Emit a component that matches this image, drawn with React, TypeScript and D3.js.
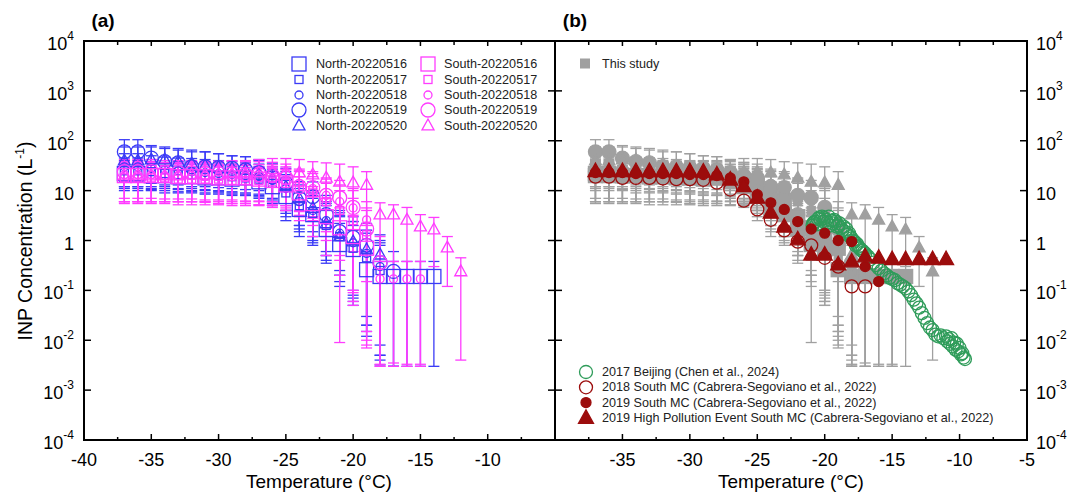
import React from 'react';
import * as d3 from 'd3';

// ---- data ----
const TEMPS = [-37, -36, -35, -34, -33, -32, -31, -30, -29, -28, -27, -26, -25, -24, -23, -22, -21, -20, -19, -18, -17, -16, -15, -14, -13, -12, -11];

const north16Val = [22, 22, 20, 20, 19, 19, 18, 18, 17, 18, 15, 12, 7.6, 4.2, 3.3, 1.66, 0.83, 0.66, 0.26, 0.19, 0.19, 0.19, 0.19, 0.19];
const north16Hi = [40, 40, 38, 36, 35, 34, 33, 32, 31, 32, 28, 24, 16, 9, 7, 4, 2.2, 1.6, 0.6, 0.38, 0.38, 0.38, 0.38, 0.38];
const north16Lo = [10, 10, 10, 9, 9, 9, 8.5, 8.5, 8, 8, 7, 5, 2.5, 1.2, 0.8, 0.35, 0.12, 0.06, 0.012, 0.0032, 0.003, 0.003, 0.003, 0.003];

const north17Val = [25, 25, 24, 22, 21, 21, 20, 20, 19, 18, 17, 14, 9, 5, 3.5, 2, 1.2, 0.7, 0.45, 0.25];
const north17Hi = [45, 45, 42, 40, 38, 38, 36, 36, 34, 32, 30, 27, 18, 11, 8, 5, 3.2, 2, 1.4, 0.8];
const north17Lo = [11, 11, 10.5, 10, 9.5, 9.5, 9, 9, 8.5, 8, 7.5, 5.5, 3, 1.5, 0.9, 0.4, 0.15, 0.05, 0.015, 0.004];

const north18Val = [30, 30, 28, 26, 25, 24, 23, 22, 21, 20, 19, 16, 11, 6, 4, 2.5, 1.4, 0.9, 0.55, 0.3];
const north18Hi = [55, 55, 50, 47, 45, 44, 42, 40, 38, 36, 34, 30, 21, 13, 9, 6, 3.6, 2.4, 1.6, 0.9];
const north18Lo = [12, 12, 11, 11, 10.5, 10, 10, 9.5, 9, 8.5, 8, 6, 3.5, 1.7, 1, 0.5, 0.2, 0.08, 0.02, 0.005];

const north19Val = [60, 60, 45, 38, 36, 30, 30, 29, 28, 26, 23, 19, 14, 7, 7.6, 3.3, 1.5, 1.15, 0.8, 0.36, 0.24];
const north19Hi = [105, 105, 80, 70, 65, 60, 60, 55, 50, 48, 42, 36, 28, 15, 15, 8, 4, 3, 2.2, 1, 0.6];
const north19Lo = [15, 15, 14, 13, 13, 12, 12, 11.5, 11, 10.5, 10, 7, 4, 2, 1.5, 0.6, 0.25, 0.1, 0.03, 0.008, 0.003];

const north20Val = [40, 40, 42, 42, 38, 35, 32, 30, 28, 26, 22, 18, 12, 7, 4.5, 2.2, 1.2, 0.95, 0.66, 0.52];
const north20Hi = [75, 75, 75, 75, 70, 65, 60, 55, 50, 48, 40, 34, 24, 15, 10, 5.5, 3, 2.4, 1.6, 1.3];
const north20Lo = [12, 12, 12, 12, 11, 11, 10.5, 10, 9.5, 9, 8.5, 6.5, 4, 2, 1.2, 0.5, 0.2, 0.07, 0.02, 0.005];

const south16Val = [20, 20, 20, 20, 19, 19, 19, 18, 18, 18, 17, 16, 13, 9, 5.5, 3, 1.8, 1.2, 0.7];
const south16Hi = [35, 35, 35, 35, 34, 34, 33, 32, 32, 32, 30, 30, 26, 19, 12, 7, 4.5, 3.2, 2];
const south16Lo = [6, 6, 6, 6, 6, 6, 5.8, 5.5, 5.5, 5.5, 5.2, 5, 4, 2.5, 1.2, 0.5, 0.2, 0.05, 0.01];

const south17Val = [18, 18, 18, 18, 17, 17, 17, 17, 16, 16, 16, 15, 14, 12, 9, 6, 4, 2.5, 1.3];
const south17Hi = [32, 32, 32, 32, 30, 30, 30, 30, 29, 29, 29, 28, 27, 24, 19, 14, 10, 7, 4];
const south17Lo = [5.5, 5.5, 5.5, 5.5, 5.2, 5.2, 5.2, 5.2, 5, 5, 5, 4.6, 4, 3.2, 2, 1, 0.4, 0.1, 0.015];

const south18Val = [21, 21, 21, 20, 20, 20, 20, 19, 19, 19, 18, 18, 16, 14, 11, 8, 6, 4.5, 2.6, 0.17, 0.17, 0.17, 0.17];
const south18Hi = [38, 38, 38, 36, 36, 36, 36, 34, 34, 34, 33, 33, 30, 27, 22, 17, 13, 10, 6, 0.38, 0.38, 0.38, 0.38];
const south18Lo = [6, 6, 6, 6, 6, 6, 6, 5.5, 5.5, 5.5, 5.2, 5.2, 4.5, 3.8, 2.8, 1.8, 1.1, 0.6, 0.15, 0.003, 0.003, 0.003, 0.003];

const south19Val = [24, 24, 24, 23, 23, 23, 22, 22, 22, 21, 21, 20, 18, 12, 11.5, 8, 7.2, 4.6, 1.7, 0.36];
const south19Hi = [42, 42, 42, 40, 40, 40, 39, 39, 39, 38, 38, 37, 34, 25, 24, 18, 16, 11, 4.5, 1.2];
const south19Lo = [7, 7, 7, 6.8, 6.8, 6.8, 6.5, 6.5, 6.5, 6.2, 6.2, 6, 5, 3, 2.5, 1.2, 0.009, 0.06, 0.007, 0.003];

const south20Val = [20, 20, 20, 20, 20, 21, 21, 21, 22, 22, 23, 24, 24, 23, 21, 18, 15, 14.5, 13, 3.3, 3.3, 2.6, 1.9, 1.66, 0.72, 0.24];
const south20Hi = [36, 36, 36, 36, 36, 38, 38, 38, 40, 40, 42, 44, 44, 42, 38, 36, 34, 30, 24, 5.7, 5.2, 4.6, 3.3, 2.9, 1.2, 0.45];
const south20Lo = [6, 6, 6, 6, 6, 6, 6, 6, 6, 6, 6, 6, 5, 4, 3, 1.5, 0.5, 0.09, 0.008, 0.0033, 0.0035, 0.0033, 0.0033, 0.3, 0.12, 0.004];

// panel (b) reference data
const mc2018Val = [19, 19, 18, 18, 18, 17.5, 17, 17, 16.5, 14.5, 10.5, 6.3, 4.2, 2.6, 1.6, 0.95, 0.8, 0.45, 0.3, 0.12, 0.12];
const mc2019Val = [23, 23, 23, 22, 22, 22, 22, 21, 21, 20, 18, 15, 8.3, 5.7, 4.2, 2.4, 1.7, 1.4, 1.0, 0.95, 0.3, 0.15];
const mcHighVal = [24.5, 24.5, 24.5, 24.5, 24.5, 24.5, 24.5, 24.5, 24, 21, 16.6, 12.2, 7.2, 3.6, 1.9, 1.05, 0.52, 0.52, 0.33, 0.38, 0.48, 0.45, 0.42, 0.42, 0.42, 0.42, 0.42];

const beijingT = [
  -20.9, -20.85, -20.8, -20.7, -20.6, -20.5, -20.4, -20.3, -20.2, -20.1, -20.0, -19.9, -19.8, -19.7, -19.6, -19.5,
  -19.4, -19.3, -19.2, -19.1, -19.0, -18.9, -18.8, -18.7, -18.6, -18.5, -18.4, -18.3, -18.2, -18.1, -18.0, -17.9,
  -17.8, -17.7, -17.6, -17.5, -17.4, -17.3, -17.2, -17.1, -17.0, -16.8, -16.6, -16.4, -16.2, -16.0, -15.8, -15.6,
  -15.4, -15.2, -15.0, -14.8, -14.6, -14.4, -14.2, -14.0, -13.8, -13.6, -13.4, -13.2, -13.0, -12.8, -12.6, -12.4,
  -12.2, -12.0, -11.8, -11.6, -11.4, -11.2, -11.0, -10.9, -10.8, -10.7, -10.6, -10.5, -10.4, -10.3, -10.2, -10.1,
  -10.0, -9.9, -9.8, -9.7, -9.6,
];
const beijingVal = [
  2.0, 2.2, 2.3, 2.4, 2.1, 2.7, 2.9, 2.6, 3.0, 2.4, 2.8, 2.6, 2.3, 3.0, 2.0, 2.5,
  2.2, 2.6, 2.4, 1.9, 2.0, 2.2, 1.8, 1.6, 1.9, 1.5, 1.7, 1.3, 1.4, 1.2, 1.1, 1.0,
  0.95, 0.8, 0.85, 0.75, 0.7, 0.64, 0.62, 0.58, 0.55, 0.48, 0.42, 0.36, 0.32, 0.28, 0.25, 0.22,
  0.2, 0.18, 0.17, 0.16, 0.14, 0.13, 0.12, 0.11, 0.095, 0.08, 0.065, 0.055, 0.045, 0.035, 0.028, 0.022,
  0.018, 0.016, 0.013, 0.012, 0.0125, 0.011, 0.012, 0.0095, 0.0105, 0.0085, 0.011, 0.0075, 0.009, 0.0065, 0.0085, 0.006,
  0.007, 0.0052, 0.0055, 0.0045, 0.0042,
];

const A_X_LABELS = [-40, -35, -30, -25, -20, -15, -10];
const B_X_LABELS = [-35, -30, -25, -20, -15, -10, -5];
const MAJOR_X = [-35, -30, -25, -20, -15, -10];
const MINOR_X = [-37.5, -32.5, -27.5, -22.5, -17.5, -12.5, -7.5];
const DECADES = [-4, -3, -2, -1, 0, 1, 2, 3, 4];

// ---- layout ----
const W = 1069, H = 492;
const TOP = 41, BOTTOM = 440, LEFT = 84, MID = 555, RIGHT = 1027;
const FONT = "'Liberation Sans', Arial, Helvetica, sans-serif";
const BLUE = '#3b3bf6';
const MAGENTA = '#ff3cff';
const GRAY = '#a0a0a0';
const RED = '#9c0c0c';
const GREEN = '#2f9c5a';

const y = d3.scaleLog().domain([1e-4, 1e4]).range([BOTTOM, TOP]);
const xA = d3.scaleLinear().domain([-40, -5]).range([LEFT, MID]);
const xB = d3.scaleLinear().domain([-40, -5]).range([MID, RIGHT]);

type Kind = 'bigSquare' | 'smallSquare' | 'smallCircle' | 'bigCircle' | 'triangle' | 'dot' | 'openCircle' | 'bigTriangle';

const series = [
  { name: 'North-20220516', kind: 'bigSquare', color: BLUE, val: north16Val, lo: north16Lo, hi: north16Hi },
  { name: 'North-20220517', kind: 'smallSquare', color: BLUE, val: north17Val, lo: north17Lo, hi: north17Hi },
  { name: 'North-20220518', kind: 'smallCircle', color: BLUE, val: north18Val, lo: north18Lo, hi: north18Hi },
  { name: 'North-20220519', kind: 'bigCircle', color: BLUE, val: north19Val, lo: north19Lo, hi: north19Hi },
  { name: 'North-20220520', kind: 'triangle', color: BLUE, val: north20Val, lo: north20Lo, hi: north20Hi },
  { name: 'South-20220516', kind: 'bigSquare', color: MAGENTA, val: south16Val, lo: south16Lo, hi: south16Hi },
  { name: 'South-20220517', kind: 'smallSquare', color: MAGENTA, val: south17Val, lo: south17Lo, hi: south17Hi },
  { name: 'South-20220518', kind: 'smallCircle', color: MAGENTA, val: south18Val, lo: south18Lo, hi: south18Hi },
  { name: 'South-20220519', kind: 'bigCircle', color: MAGENTA, val: south19Val, lo: south19Lo, hi: south19Hi },
  { name: 'South-20220520', kind: 'triangle', color: MAGENTA, val: south20Val, lo: south20Lo, hi: south20Hi },
];

function Marker({ kind, cx, cy, color, filled }: { kind: Kind; cx: number; cy: number; color: string; filled?: boolean }) {
  const fill = filled ? color : 'none';
  const sw = 1.3;
  if (kind === 'bigSquare' || kind === 'smallSquare') {
    const s = kind === 'bigSquare' ? 14 : 8;
    return <rect x={cx - s / 2} y={cy - s / 2} width={s} height={s} fill={fill} stroke={color} strokeWidth={sw} />;
  }
  if (kind === 'smallCircle' || kind === 'bigCircle' || kind === 'openCircle' || kind === 'dot') {
    const r = kind === 'smallCircle' ? 4 : kind === 'bigCircle' ? 7 : kind === 'openCircle' ? 6.5 : 5;
    return <circle cx={cx} cy={cy} r={r} fill={fill} stroke={color} strokeWidth={sw} />;
  }
  const s = kind === 'bigTriangle' ? 15 : 12;
  const h = s * 0.9;
  const d = `M${cx},${cy - h * 0.6}L${cx - s / 2},${cy + h * 0.4}L${cx + s / 2},${cy + h * 0.4}Z`;
  return <path d={d} fill={fill} stroke={color} strokeWidth={sw} strokeLinejoin="miter" />;
}

function ErrorBars({ x, s, color }: { x: (v: number) => number; s: typeof series[number]; color: string }) {
  return (
    <g stroke={color} strokeWidth={1.3}>
      {s.val.map((_, i) => {
        const px = x(TEMPS[i]);
        const y1 = y(s.lo[i]);
        const y2 = y(s.hi[i]);
        return (
          <g key={i}>
            <line x1={px} x2={px} y1={y1} y2={y2} />
            <line x1={px - 5.5} x2={px + 5.5} y1={y1} y2={y1} />
            <line x1={px - 5.5} x2={px + 5.5} y1={y2} y2={y2} />
          </g>
        );
      })}
    </g>
  );
}

function Decade({ e, x, y: ty, anchor }: { e: number; x: number; y: number; anchor: 'start' | 'end' }) {
  if (e === 0 || e === 1) {
    return <text x={x} y={ty} textAnchor={anchor} fontSize={18} dominantBaseline="central">{e === 0 ? '1' : '10'}</text>;
  }
  return (
    <text x={x} y={ty} textAnchor={anchor} fontSize={18} dominantBaseline="central">
      10<tspan dy={-8} fontSize={12}>{e}</tspan>
    </text>
  );
}

function XAxis({ x, labels }: { x: (v: number) => number; labels: number[] }) {
  return (
    <g>
      {MAJOR_X.map((t) => (
        <g key={'M' + t} stroke="#000" strokeWidth={1.5}>
          <line x1={x(t)} x2={x(t)} y1={BOTTOM} y2={BOTTOM - 6} />
          <line x1={x(t)} x2={x(t)} y1={TOP} y2={TOP + 5} />
        </g>
      ))}
      {MINOR_X.map((t) => (
        <g key={'m' + t} stroke="#000" strokeWidth={1.5}>
          <line x1={x(t)} x2={x(t)} y1={BOTTOM} y2={BOTTOM - 3} />
          <line x1={x(t)} x2={x(t)} y1={TOP} y2={TOP + 4} />
        </g>
      ))}
      {labels.map((t) => (
        <text key={'l' + t} x={x(t)} y={466} textAnchor="middle" fontSize={18}>{t}</text>
      ))}
    </g>
  );
}

export default function App() {
  const legendRowsA = [64, 79.5, 95, 110, 125.5];
  const refLegend = [
    { kind: 'openCircle' as Kind, color: GREEN, filled: false, label: '2017 Beijing (Chen et al., 2024)' },
    { kind: 'openCircle' as Kind, color: RED, filled: false, label: '2018 South MC (Cabrera-Segoviano et al., 2022)' },
    { kind: 'dot' as Kind, color: RED, filled: true, label: '2019 South MC (Cabrera-Segoviano et al., 2022)' },
    { kind: 'bigTriangle' as Kind, color: RED, filled: true, label: '2019 High Pollution Event South MC (Cabrera-Segoviano et al., 2022)' },
  ];
  const refRows = [372, 387.3, 402.6, 418];

  return (
    <svg width={W} height={H} style={{ position: 'absolute', left: 0, top: 0, background: '#fff' }} fontFamily={FONT}>
      <rect width={W} height={H} fill="#fff" />

      {/* panel (a) data */}
      {series.map((s) => (
        <ErrorBars key={'ea' + s.name} x={xA} s={s} color={s.color} />
      ))}
      {series.map((s) => (
        <g key={'ma' + s.name}>
          {s.val.map((v, i) => (
            <Marker key={i} kind={s.kind as Kind} cx={xA(TEMPS[i])} cy={y(v)} color={s.color} />
          ))}
        </g>
      ))}

      {/* panel (b): this study in gray */}
      {series.map((s) => (
        <ErrorBars key={'eb' + s.name} x={xB} s={s} color={GRAY} />
      ))}
      {series.map((s) => (
        <g key={'mb' + s.name}>
          {s.val.map((v, i) => (
            <Marker key={i} kind={s.kind as Kind} cx={xB(TEMPS[i])} cy={y(v)} color={GRAY} filled />
          ))}
        </g>
      ))}

      {/* panel (b): reference studies */}
      <g>
        {beijingVal.map((v, i) => (
          <Marker key={i} kind="openCircle" cx={xB(beijingT[i])} cy={y(v)} color={GREEN} />
        ))}
      </g>
      <g>
        {mc2018Val.map((v, i) => (
          <Marker key={i} kind="openCircle" cx={xB(TEMPS[i])} cy={y(v)} color={RED} />
        ))}
      </g>
      <g>
        {mc2019Val.map((v, i) => (
          <Marker key={i} kind="dot" cx={xB(TEMPS[i])} cy={y(v)} color={RED} filled />
        ))}
      </g>
      <g>
        {mcHighVal.map((v, i) => (
          <Marker key={i} kind="bigTriangle" cx={xB(TEMPS[i])} cy={y(v)} color={RED} filled />
        ))}
      </g>

      {/* frames */}
      <rect x={LEFT} y={TOP} width={RIGHT - LEFT} height={BOTTOM - TOP} fill="none" stroke="#000" strokeWidth={2} />
      <line x1={MID} x2={MID} y1={TOP} y2={BOTTOM} stroke="#000" strokeWidth={2} />

      {/* y ticks */}
      {DECADES.map((e) => {
        const ty = y(Math.pow(10, e));
        return (
          <g key={'y' + e}>
            <g stroke="#000" strokeWidth={1.5}>
              <line x1={LEFT} x2={LEFT + 7} y1={ty} y2={ty} />
              <line x1={MID - 7} x2={MID + 7} y1={ty} y2={ty} />
              <line x1={RIGHT - 7} x2={RIGHT} y1={ty} y2={ty} />
            </g>
            <Decade e={e} x={74} y={ty + 3} anchor="end" />
            <Decade e={e} x={1036} y={ty + 3} anchor="start" />
          </g>
        );
      })}

      <XAxis x={xA} labels={A_X_LABELS} />
      <XAxis x={xB} labels={B_X_LABELS} />

      {/* titles */}
      <text x={(LEFT + MID) / 2 - 0.5} y={488} textAnchor="middle" fontSize={19}>Temperature (°C)</text>
      <text x={(MID + RIGHT) / 2} y={488} textAnchor="middle" fontSize={19}>Temperature (°C)</text>
      <text transform="translate(32,241) rotate(-90)" textAnchor="middle" fontSize={19.5}>
        INP Concentration (L<tspan dy={-8} fontSize={12}>-1</tspan><tspan dy={8}>)</tspan>
      </text>
      <text x={103} y={27} textAnchor="middle" fontSize={19} fontWeight="bold">(a)</text>
      <text x={575} y={27} textAnchor="middle" fontSize={19} fontWeight="bold">(b)</text>

      {/* legend (a) */}
      {series.map((s, i) => {
        const col = i < 5 ? 0 : 1;
        const row = i % 5;
        const sx = col === 0 ? 299 : 428;
        const tx = col === 0 ? 316 : 444;
        const ly = legendRowsA[row];
        return (
          <g key={'la' + s.name}>
            <Marker kind={s.kind as Kind} cx={sx} cy={ly} color={s.color} />
            <text x={tx} y={ly} dominantBaseline="central" fontSize={12.6} fill="#222">{s.name}</text>
          </g>
        );
      })}

      {/* legend (b) */}
      <rect x={580} y={58.5} width={10} height={10} fill={GRAY} />
      <text x={602} y={64} dominantBaseline="central" fontSize={12.6} fill="#222">This study</text>
      {refLegend.map((r, i) => (
        <g key={'lb' + i}>
          <Marker kind={r.kind} cx={586} cy={refRows[i]} color={r.color} filled={r.filled} />
          <text x={602} y={refRows[i]} dominantBaseline="central" fontSize={12.6} fill="#222">{r.label}</text>
        </g>
      ))}
    </svg>
  );
}
